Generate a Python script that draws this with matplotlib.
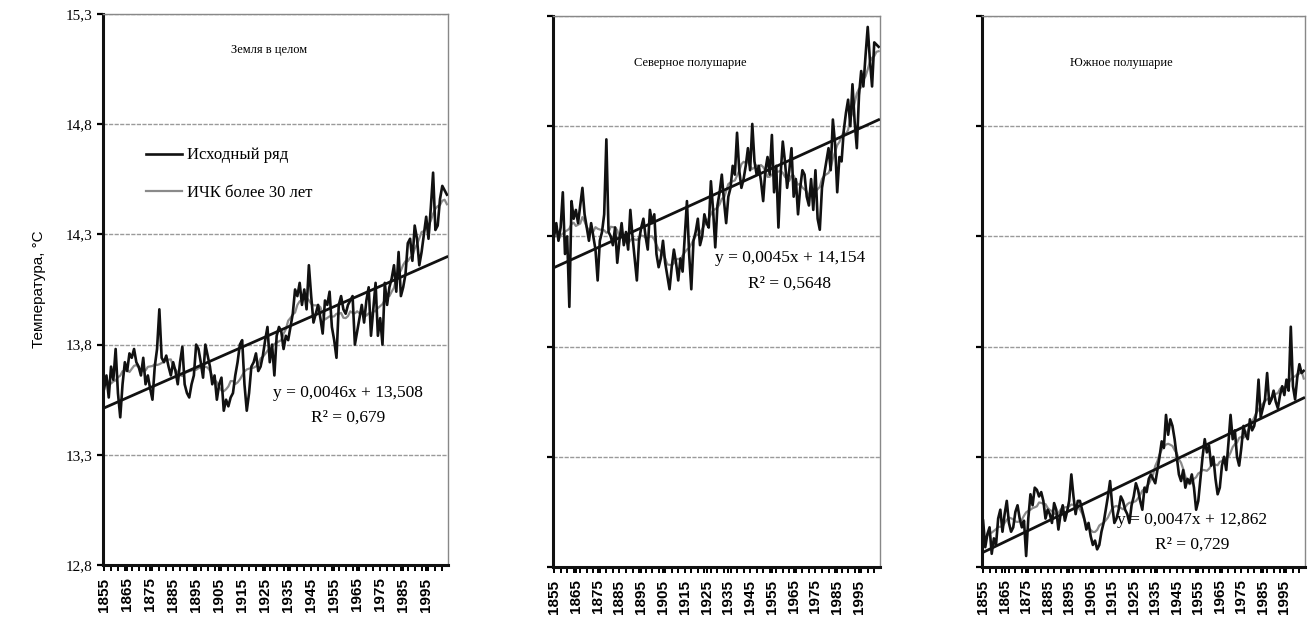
import numpy as np
import pandas as pd
import matplotlib
matplotlib.use("Agg")
import matplotlib.pyplot as plt

plt.rcParams['font.family'] = ['Liberation Serif', 'DejaVu Serif']

# years 1855..2004, one value per year (mean annual temperature, deg C)
years = list(range(1855, 2005))

earth = [
    13.60, 13.66, 13.56, 13.70, 13.64, 13.78, 13.58, 13.47, 13.62, 13.72,
    13.68, 13.76, 13.74, 13.78, 13.72, 13.70, 13.66, 13.74, 13.62, 13.66,
    13.60, 13.55, 13.70, 13.78, 13.96, 13.74, 13.72, 13.75, 13.70, 13.66,
    13.72, 13.68, 13.62, 13.72, 13.79, 13.62, 13.58, 13.56, 13.62, 13.66,
    13.80, 13.78, 13.72, 13.65, 13.80, 13.75, 13.70, 13.62, 13.66, 13.55,
    13.62, 13.65, 13.50, 13.55, 13.52, 13.56, 13.58, 13.66, 13.72, 13.80,
    13.82, 13.62, 13.50, 13.58, 13.70, 13.72, 13.76, 13.68, 13.70, 13.75,
    13.82, 13.88, 13.72, 13.80, 13.66, 13.84, 13.88, 13.86, 13.78, 13.84,
    13.82, 13.88, 13.94, 14.05, 14.02, 14.08, 13.98, 14.05, 13.96, 14.16,
    14.02, 13.90, 13.94, 13.98, 13.92, 13.85, 14.00, 13.98, 14.04, 13.88,
    13.82, 13.74, 13.98, 14.02, 13.96, 13.94, 13.98, 14.00, 14.02, 13.80,
    13.86, 13.92, 13.98, 13.90, 14.00, 14.06, 13.84, 13.96, 14.08, 13.84,
    13.92, 13.80, 14.08, 13.98, 14.06, 14.10, 14.16, 14.04, 14.22, 14.02,
    14.06, 14.12, 14.26, 14.28, 14.18, 14.34, 14.28, 14.16, 14.22, 14.30,
    14.38, 14.28, 14.42, 14.58, 14.32, 14.34, 14.46, 14.52, 14.50, 14.48,
]

north = [
    14.30, 14.36, 14.28, 14.34, 14.50, 14.22, 14.30, 13.98, 14.46, 14.38,
    14.42, 14.36, 14.44, 14.52, 14.40, 14.34, 14.28, 14.36, 14.30, 14.24,
    14.10, 14.28, 14.32, 14.40, 14.74, 14.32, 14.30, 14.26, 14.34, 14.18,
    14.28, 14.36, 14.26, 14.32, 14.24, 14.42, 14.30, 14.20, 14.10, 14.28,
    14.34, 14.38, 14.30, 14.24, 14.42, 14.36, 14.40, 14.22, 14.16, 14.20,
    14.28, 14.18, 14.12, 14.06, 14.16, 14.24, 14.18, 14.10, 14.20, 14.14,
    14.30, 14.46, 14.22, 14.06, 14.28, 14.32, 14.38, 14.26, 14.30, 14.40,
    14.36, 14.34, 14.55, 14.42, 14.25, 14.44, 14.50, 14.58, 14.46, 14.36,
    14.48, 14.52, 14.62, 14.58, 14.77, 14.60, 14.52, 14.56, 14.62, 14.70,
    14.60, 14.81, 14.64, 14.58, 14.62, 14.55, 14.46, 14.60, 14.66, 14.58,
    14.76, 14.50, 14.62, 14.34, 14.58, 14.73, 14.64, 14.52, 14.60, 14.70,
    14.48, 14.56, 14.40, 14.52, 14.60, 14.58, 14.48, 14.44, 14.56, 14.42,
    14.60, 14.38, 14.33, 14.52, 14.58, 14.64, 14.70, 14.60, 14.83, 14.72,
    14.50, 14.66, 14.64, 14.78, 14.86, 14.92, 14.80, 14.99, 14.82, 14.70,
    14.94, 15.05, 14.98, 15.12, 15.25, 15.10, 14.98, 15.18, 15.17, 15.16,
]

south = [
    13.01, 12.89, 12.95, 12.98, 12.86, 12.93, 12.90, 13.02, 13.06, 12.96,
    13.04, 13.10, 13.00, 12.96, 12.98, 13.05, 13.08, 13.02, 12.98, 13.01,
    12.85, 13.02, 13.13, 13.08, 13.16, 13.15, 13.12, 13.14, 13.10, 13.02,
    13.06, 13.04, 13.00, 13.09, 13.06, 12.97, 13.04, 13.08, 13.01, 13.05,
    13.10, 13.22, 13.12, 13.04, 13.10, 13.10, 13.06, 13.02, 12.97, 13.00,
    12.94, 12.90, 12.92, 12.88, 12.90, 12.96, 13.00, 13.06, 13.12, 13.19,
    13.08, 13.00, 13.02, 13.06, 13.12, 13.10, 13.06, 13.04, 13.00, 13.08,
    13.12, 13.18, 13.15, 13.10, 13.06, 13.16, 13.14, 13.20, 13.22, 13.20,
    13.18, 13.24, 13.30, 13.37, 13.34, 13.49, 13.40, 13.47, 13.44, 13.38,
    13.30, 13.22, 13.19, 13.24, 13.16, 13.20, 13.18, 13.22, 13.16, 13.06,
    13.10, 13.20, 13.30, 13.38, 13.32, 13.35, 13.26, 13.30, 13.20, 13.13,
    13.16, 13.26, 13.30, 13.24, 13.36, 13.49, 13.38, 13.42, 13.30, 13.26,
    13.34, 13.44, 13.40, 13.38, 13.47, 13.42, 13.44, 13.50, 13.65, 13.48,
    13.52, 13.56, 13.68, 13.54, 13.56, 13.60, 13.55, 13.52, 13.58, 13.62,
    13.58, 13.65, 13.60, 13.89, 13.62, 13.56, 13.66, 13.72, 13.68, 13.69,
]

titles = ["Земля в целом", "Северное полушарие", "Южное полушарие"]
slopes = [0.0046, 0.0045, 0.0047]
intercepts = [13.508, 14.154, 12.862]
r2_labels = ["0,679", "0,5648", "0,729"]
yticks = [12.8, 13.3, 13.8, 14.3, 14.8, 15.3]
label_years = list(range(1855, 2000, 10))

series = [earth, north, south]

# panel geometry in figure fractions
rects = [
    [0.0785, 0.0916, 0.263, 0.886],
    [0.4215, 0.0884, 0.249, 0.886],
    [0.7485, 0.0884, 0.246, 0.886],
]
title_pos = [(0.48, 0.935), (0.42, 0.915), (0.43, 0.915)]
eq_pos = [(0.71, 0.312, 0.268), (0.725, 0.560, 0.514), (0.65, 0.085, 0.040)]

fig = plt.figure(figsize=(13.12, 6.22), dpi=100)

for i in range(3):
    ax = fig.add_axes(rects[i])
    vals = np.array(series[i])
    x = np.arange(1, len(vals) + 1)

    smooth = pd.Series(vals).rolling(11, center=True, min_periods=1).mean()
    trend = slopes[i] * x + intercepts[i]

    ax.plot(x, smooth, color="#8a8a8a", lw=1.6, zorder=2, label="ИЧК более 30 лет")
    ax.plot(x, vals, color="#111111", lw=1.9, zorder=3, label="Исходный ряд")
    ax.plot(x, trend, color="#111111", lw=2.0, zorder=4)

    ax.set_xlim(0.5, len(vals) + 0.5)
    ax.set_ylim(12.8, 15.3)
    ax.set_yticks(yticks)
    if i == 0:
        ax.set_yticklabels([f"{v:.1f}".replace(".", ",") for v in yticks], fontsize=11)
        ax.set_ylabel("Температура, °С", fontsize=11, family=["Liberation Sans"], labelpad=14)
    else:
        ax.set_yticklabels([])
    ax.grid(axis="y", color="#9a9a9a", lw=1.0, ls=(0, (3, 1)))
    ax.set_axisbelow(True)

    ax.set_xticks([years.index(y) + 1 for y in label_years])
    ax.set_xticklabels([str(y) for y in label_years], rotation=90, fontsize=11,
                       fontweight="bold", family=["Liberation Sans"])
    ax.set_xticks(np.arange(1, len(vals) + 1, 3), minor=True)
    ax.tick_params(axis="x", which="both", direction="out", length=4, width=1.4, pad=5)
    ax.tick_params(axis="y", direction="out", length=4, width=1.6)

    for side in ["left", "bottom"]:
        ax.spines[side].set_linewidth(2.2)
        ax.spines[side].set_color("#111111")
    for side in ["top", "right"]:
        ax.spines[side].set_linewidth(1.0)
        ax.spines[side].set_color("#888888")

    ax.text(*title_pos[i], titles[i], transform=ax.transAxes, ha="center",
            va="center", fontsize=9)
    ex, ey1, ey2 = eq_pos[i]
    eq = f"y = {slopes[i]:.4f}x + {intercepts[i]:.3f}".replace(".", ",")
    ax.text(ex, ey1, eq, transform=ax.transAxes, ha="center", va="center", fontsize=12.5)
    ax.text(ex, ey2, f"R² = {r2_labels[i]}", transform=ax.transAxes, ha="center",
            va="center", fontsize=12.5)

    if i == 0:
        handles, labels = ax.get_legend_handles_labels()
        ax.legend(handles[::-1], labels[::-1], loc="upper left",
                  bbox_to_anchor=(0.08, 0.785), frameon=False, fontsize=12,
                  handlelength=2.2, labelspacing=1.3, handletextpad=0.3)

fig.savefig("out.png", dpi=100)
